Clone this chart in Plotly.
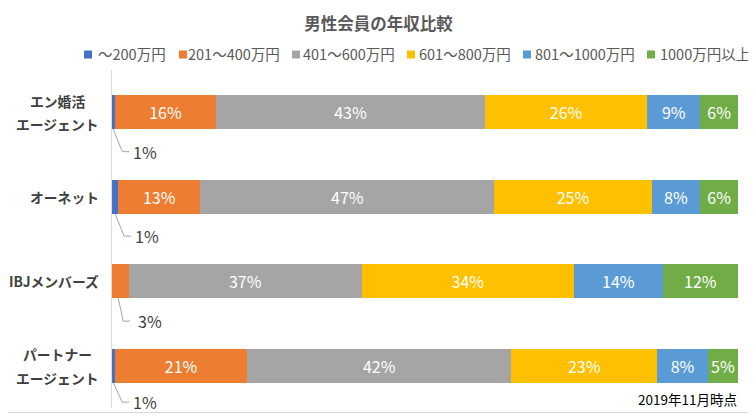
import plotly.graph_objects as go

categories = ["エン婚活エージェント", "オーネット", "IBJメンバーズ", "パートナーエージェント"]
tick_labels = ["エン婚活\u3000<br>エージェント", "オーネット", "IBJメンバーズ", "パートナー\u2002<br>エージェント"]
series_names = ["〜200万円", "201〜400万円", "401〜600万円", "601〜800万円", "801〜1000万円", "1000万円以上"]
series_colors = ["#4472C4", "#ED7D31", "#A5A5A5", "#FFC000", "#5B9BD5", "#70AD47"]

v_under200 = [0.5, 1.0, 0.0, 0.5]
v_201_400 = [16.1, 13.1, 2.7, 21.1]
v_401_600 = [43.0, 47.0, 37.2, 42.2]
v_601_800 = [25.9, 25.1, 33.9, 23.3]
v_801_1000 = [8.5, 7.8, 14.2, 8.1]
v_over1000 = [6.0, 6.0, 12.0, 4.8]

l_under200 = ["", "", "", ""]
l_201_400 = ["16%", "13%", "", "21%"]
l_401_600 = ["43%", "47%", "37%", "42%"]
l_601_800 = ["26%", "25%", "34%", "23%"]
l_801_1000 = ["9%", "8%", "14%", "8%"]
l_over1000 = ["6%", "6%", "12%", "5%"]

# callouts for small segments
callout_cat = [0, 1, 2, 3]
callout_x = [0.2, 0.5, 1.0, 0.2]
callout_text = ["1%", "1%", "3%", "1%"]

note_text = "2019年11月時点"
title_text = "男性会員の年収比較"

values = [v_under200, v_201_400, v_401_600, v_601_800, v_801_1000, v_over1000]
labels = [l_under200, l_201_400, l_401_600, l_601_800, l_801_1000, l_over1000]

FONT = "Noto Sans CJK JP"

# page offset (browser default body margin) compensation
OFF = 8
W, H = 756 - OFF, 417 - OFF
PL, PR, PT, PB = 112, 738, 70, 408   # plot area in reference pixels
ml, mr, mt, mb = PL - OFF, W - (PR - OFF), PT - OFF, H - (PB - OFF)
pw, ph = PR - PL, PB - PT


def px2x(rx):
    return (rx - PL) / pw


def py2y(ry):
    return (PB - ry) / ph


fig = go.Figure()
for name, col, vals, labs in zip(series_names, series_colors, values, labels):
    fig.add_trace(go.Bar(
        y=categories, x=vals, name=name, orientation="h",
        marker=dict(color=col, line=dict(width=0)),
        text=labs, textposition="inside", insidetextanchor="middle",
        textfont=dict(color="white", size=16, family=FONT),
        constraintext="none", hoverinfo="skip", showlegend=False,
    ))

BAR_W = 0.40
leader_drop = [22.5, 22.5, 23, 19.5]
leader_dx = [9, 9, 5, 9]
for ci, cx, ct, dr, dx in zip(callout_cat, callout_x, callout_text, leader_drop, leader_dx):
    yb = ci + BAR_W / 2
    fig.add_shape(type="path", xref="x", yref="y",
                  xsizemode="pixel", ysizemode="pixel",
                  xanchor=cx, yanchor=yb,
                  path=f"M0,0 L{dx},{-dr} L{dx + 7},{-dr}",
                  line=dict(color="#A6A6A6", width=1))
    fig.add_annotation(x=cx, y=yb, xref="x", yref="y", text=ct,
                       showarrow=False, xanchor="left", yanchor="middle",
                       xshift=19, yshift=-dr, borderpad=0,
                       font=dict(size=16, color="#404040", family=FONT))

# category labels (one text per line for the wider line spacing of the original)
LINE_GAP = 23.5
for ci, lab in enumerate(tick_labels):
    lines = lab.split("<br>")
    n = len(lines)
    for k, ln in enumerate(lines):
        fig.add_annotation(x=px2x(99.5), y=ci, xref="paper", yref="y", text="<b>" + ln + "</b>",
                           showarrow=False, xanchor="right", yanchor="middle", borderpad=0,
                           yshift=-(k - (n - 1) / 2) * LINE_GAP,
                           font=dict(size=13.8, color="#404040", family=FONT))

# note
fig.add_annotation(x=px2x(738), y=py2y(398.5), xref="paper", yref="paper", text=note_text,
                   showarrow=False, xanchor="right", yanchor="middle", borderpad=0,
                   font=dict(size=13.5, color="#000000", family=FONT))

# legend (drawn manually to match the compact spacing)
legend_sq_x = [84, 179, 292, 407, 523, 647]
legend_tx_x = [97, 187, 302, 418, 534, 659]
for name, col, sx, tx in zip(series_names, series_colors, legend_sq_x, legend_tx_x):
    fig.add_shape(type="rect", xref="paper", yref="paper",
                  x0=px2x(sx), x1=px2x(sx + 8), y0=py2y(58.5), y1=py2y(50.5),
                  fillcolor=col, line=dict(width=0))
    fig.add_annotation(x=px2x(tx), y=py2y(53), xref="paper", yref="paper", text=name,
                       showarrow=False, xanchor="left", yanchor="middle", borderpad=0,
                       font=dict(size=14.5, color="#595959", family=FONT))

# outer border (right and bottom edges visible)
fig.add_shape(type="path", xref="paper", yref="paper",
              path=f"M{px2x(755.5)},{py2y(0)} L{px2x(755.5)},{py2y(412.5)} L{px2x(0)},{py2y(412.5)}",
              line=dict(color="#D9D9D9", width=1))

fig.update_layout(
    width=W, height=H,
    margin=dict(l=ml, r=mr, t=mt, b=mb, autoexpand=False),
    barmode="stack", bargap=1 - BAR_W,
    plot_bgcolor="white", paper_bgcolor="white",
    font=dict(family=FONT, color="#595959"),
    title=dict(text="<b>" + title_text + "</b>", x=(378.5 - OFF) / W, xref="container",
               xanchor="center", y=1 - (24 - OFF) / H, yanchor="middle",
               font=dict(size=16.5, color="#595959", family=FONT)),
    showlegend=False,
)
fig.update_xaxes(range=[0, 100], visible=False, fixedrange=True)
fig.update_yaxes(autorange="reversed", showline=True, linecolor="#D9D9D9", linewidth=1,
                 showgrid=False, ticks="", showticklabels=False)

fig.write_html("out.html")
